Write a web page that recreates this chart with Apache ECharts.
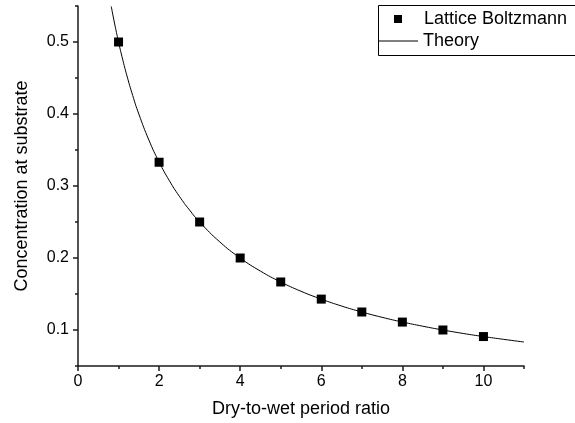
<!DOCTYPE html>
<html>
<head>
<meta charset="utf-8">
<script src="https://cdn.jsdelivr.net/npm/echarts@6/dist/echarts.min.js"></script>
<style>
html,body{margin:0;padding:0;background:#fff;}
#chart{width:575px;height:423px;}
</style>
</head>
<body>
<div id="chart"></div>
<script>
// Lattice Boltzmann simulation points
var lbX = [1, 2, 3, 4, 5, 6, 7, 8, 9, 10];
var lbY = [0.5, 0.333, 0.25, 0.2, 0.1667, 0.1429, 0.125, 0.111, 0.1, 0.0909];
// Theory curve
var theoryX = [0.82, 0.9, 1.0, 1.1, 1.2, 1.35, 1.5, 1.75, 2, 2.25, 2.5, 2.75, 3, 3.5, 4, 4.5, 5, 5.5, 6, 6.5, 7, 7.5, 8, 8.5, 9, 9.5, 10, 10.5, 11];
var theoryY = [0.5495, 0.5263, 0.5, 0.4762, 0.4545, 0.4255, 0.4, 0.3636, 0.3333, 0.3077, 0.2857, 0.2667, 0.25, 0.2222, 0.2, 0.1818, 0.1667, 0.1538, 0.1429, 0.1333, 0.125, 0.1176, 0.1111, 0.1053, 0.1, 0.0952, 0.0909, 0.087, 0.0833];
// Tick labels
var xTicks = [0, 2, 4, 6, 8, 10];
var yTicks = [0.1, 0.2, 0.3, 0.4, 0.5];

var FONT = '"Liberation Sans", Arial, sans-serif';
var AX = '#1a1a1a';

function pairs(xs, ys) { return xs.map(function (x, i) { return [x, ys[i]]; }); }

var chart = echarts.init(document.getElementById('chart'), null, { renderer: 'canvas' });
chart.setOption({
  animation: false,
  backgroundColor: '#ffffff',
  grid: { left: 78, right: 51, top: 6, bottom: 57, containLabel: false },
  xAxis: [{
    type: 'value', min: 0, max: 11, interval: 1, position: 'bottom',
    name: 'Dry-to-wet period ratio', nameLocation: 'middle', nameGap: 34,
    nameTextStyle: { fontFamily: FONT, fontSize: 18, color: '#000' },
    axisLine: { show: true, onZero: false, lineStyle: { color: AX, width: 1.5 } },
    axisTick: { show: true, inside: false, length: 3, lineStyle: { color: AX, width: 1.5 } },
    axisLabel: { customValues: xTicks, margin: 8, fontFamily: FONT, fontSize: 16, color: '#000' },
    splitLine: { show: false }
  }, {
    type: 'value', min: 0, max: 11, position: 'bottom', offset: 0,
    axisLine: { show: false },
    axisTick: { show: true, inside: false, length: 5, customValues: xTicks, lineStyle: { color: AX, width: 1.5 } },
    axisLabel: { show: false },
    splitLine: { show: false }
  }],
  yAxis: [{
    type: 'value', min: 0.05, max: 0.55, interval: 0.05, position: 'left',
    name: 'Concentration at substrate', nameLocation: 'middle', nameGap: 47,
    nameTextStyle: { fontFamily: FONT, fontSize: 18, color: '#000' },
    axisLine: { show: true, onZero: false, lineStyle: { color: AX, width: 1.5 } },
    axisTick: { show: true, inside: false, length: 3, lineStyle: { color: AX, width: 1.5 } },
    axisLabel: { customValues: yTicks, margin: 9, fontFamily: FONT, fontSize: 16, color: '#000',
      formatter: function (v) { return String(Math.round(v * 10) / 10); } },
    splitLine: { show: false }
  }, {
    type: 'value', min: 0.05, max: 0.55, position: 'left', offset: 0,
    axisLine: { show: false },
    axisTick: { show: true, inside: false, length: 5, customValues: yTicks, lineStyle: { color: AX, width: 1.5 } },
    axisLabel: { show: false },
    splitLine: { show: false }
  }],
  legend: [{
    data: [{ name: 'Lattice Boltzmann', icon: 'rect', itemStyle: { color: '#000', opacity: 1 } }],
    left: 394, top: 9, padding: 0, itemWidth: 8, itemHeight: 8, itemGap: 0,
    textStyle: { fontFamily: FONT, fontSize: 18, color: '#000', lineHeight: 20, padding: [0, 0, 0, 17] }
  }, {
    data: [{ name: 'Theory', icon: 'rect', itemStyle: { color: '#000' } }],
    left: 378, top: 31, padding: 0, itemWidth: 40, itemHeight: 1, itemGap: 0,
    textStyle: { fontFamily: FONT, fontSize: 18, color: '#000', lineHeight: 20 }
  }],
  graphic: [{
    type: 'rect', left: 376, top: 3, z: 100,
    shape: { width: 197, height: 50 },
    style: { fill: 'none', stroke: '#000', lineWidth: 1 }
  }],
  series: [{
    name: 'Theory', type: 'line', xAxisIndex: 0, yAxisIndex: 0,
    data: pairs(theoryX, theoryY), smooth: true, symbol: 'none', showSymbol: false,
    lineStyle: { color: '#000', width: 1 }, itemStyle: { color: '#000' }, z: 2
  }, {
    name: 'Lattice Boltzmann', type: 'scatter', xAxisIndex: 0, yAxisIndex: 0,
    data: pairs(lbX, lbY), symbol: 'rect', symbolSize: 9,
    itemStyle: { color: '#000', opacity: 1 }, z: 3
  }]
});
</script>
</body>
</html>
